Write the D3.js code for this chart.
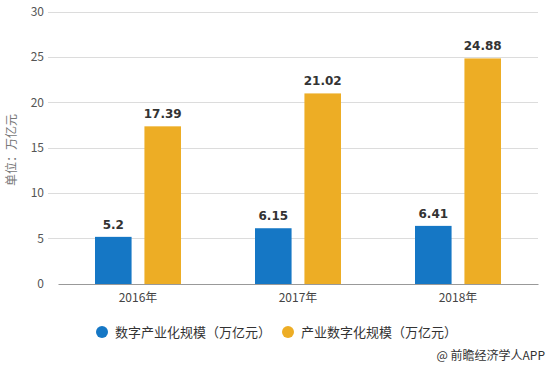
<!DOCTYPE html>
<html><head><meta charset="utf-8">
<script src="https://cdn.jsdelivr.net/npm/d3@7"></script>
<style>body{margin:0;background:#fff;font-family:"Microsoft YaHei","Noto Sans CJK SC","Noto Sans",sans-serif;}</style>
</head><body><svg id="c" width="550" height="367"></svg>
<script>
const categories = ["2016年","2017年","2018年"];
const seriesNames = ["数字产业化规模（万亿元）","产业数字化规模（万亿元）"];
const digitalIndustry = [5.2, 6.15, 6.41];
const industryDigital = [17.39, 21.02, 24.88];
const yTicks = [0,5,10,15,20,25,30];
const colors = ["#1577C5","#EDAD25"];

const svg = d3.select("#c");
const x = d3.scaleBand().domain(categories).range([58,538]);
const y = d3.scaleLinear().domain([0,30]).range([284,12]);
const sub = d3.scaleBand().domain([0,1]).range([-43,43]).paddingInner(0.26);
const font = "'Microsoft YaHei','Noto Sans CJK SC',sans-serif";

// gridlines
svg.append("g").selectAll("line").data(yTicks.filter(d=>d>0)).join("line")
  .attr("x1",48).attr("x2",538).attr("y1",d=>y(d)).attr("y2",d=>y(d))
  .attr("stroke","#dcdcdc").attr("stroke-width",1).attr("shape-rendering","crispEdges");
// y labels
svg.append("g").selectAll("text").data(yTicks).join("text")
  .attr("x",44).attr("y",d=>y(d)+4).attr("text-anchor","end")
  .attr("font-size",12).attr("fill","#555").attr("font-family",font).text(d=>d);
// y title
svg.append("text").attr("transform","translate(16,150) rotate(-90)")
  .attr("text-anchor","middle").attr("font-size",12).attr("fill","#777")
  .attr("font-family",font).text("单位：万亿元");

const series = [digitalIndustry, industryDigital];
series.forEach((vals,si)=>{
  const g = svg.append("g");
  g.selectAll("rect").data(vals).join("rect")
    .attr("x",(d,i)=>x(categories[i])+x.bandwidth()/2+sub(si))
    .attr("width",sub.bandwidth())
    .attr("y",d=>y(d)).attr("height",d=>y(0)-y(d)).attr("fill",colors[si]);
  g.selectAll("text").data(vals).join("text")
    .attr("x",(d,i)=>x(categories[i])+x.bandwidth()/2+sub(si)+sub.bandwidth()/2)
    .attr("y",d=>y(d)-8).attr("text-anchor","middle")
    .attr("font-size",12).attr("font-weight","bold").attr("fill","#333")
    .attr("font-family","Verdana,'DejaVu Sans',sans-serif")
    .text(d=>d);
});

// x axis
const xa = svg.append("g").attr("transform","translate(0,284)")
  .call(d3.axisBottom(x).tickSize(0).tickPadding(9));
xa.select(".domain").attr("stroke","#999");
xa.selectAll("text").attr("font-size",12).attr("fill","#444").attr("font-family",font);

// legend
const leg = svg.append("g");
const lx = [102, 288];
seriesNames.forEach((n,i)=>{
  leg.append("circle").attr("cx",lx[i]).attr("cy",332).attr("r",6).attr("fill",colors[i]);
  leg.append("text").attr("x",lx[i]+13).attr("y",337).attr("font-size",13)
    .attr("fill","#333").attr("font-family",font).text(n);
});
svg.append("text").attr("x",545).attr("y",360).attr("text-anchor","end")
  .attr("font-size",12).attr("fill","#333").attr("font-family",font).text("@ 前瞻经济学人APP");
</script></body></html>
